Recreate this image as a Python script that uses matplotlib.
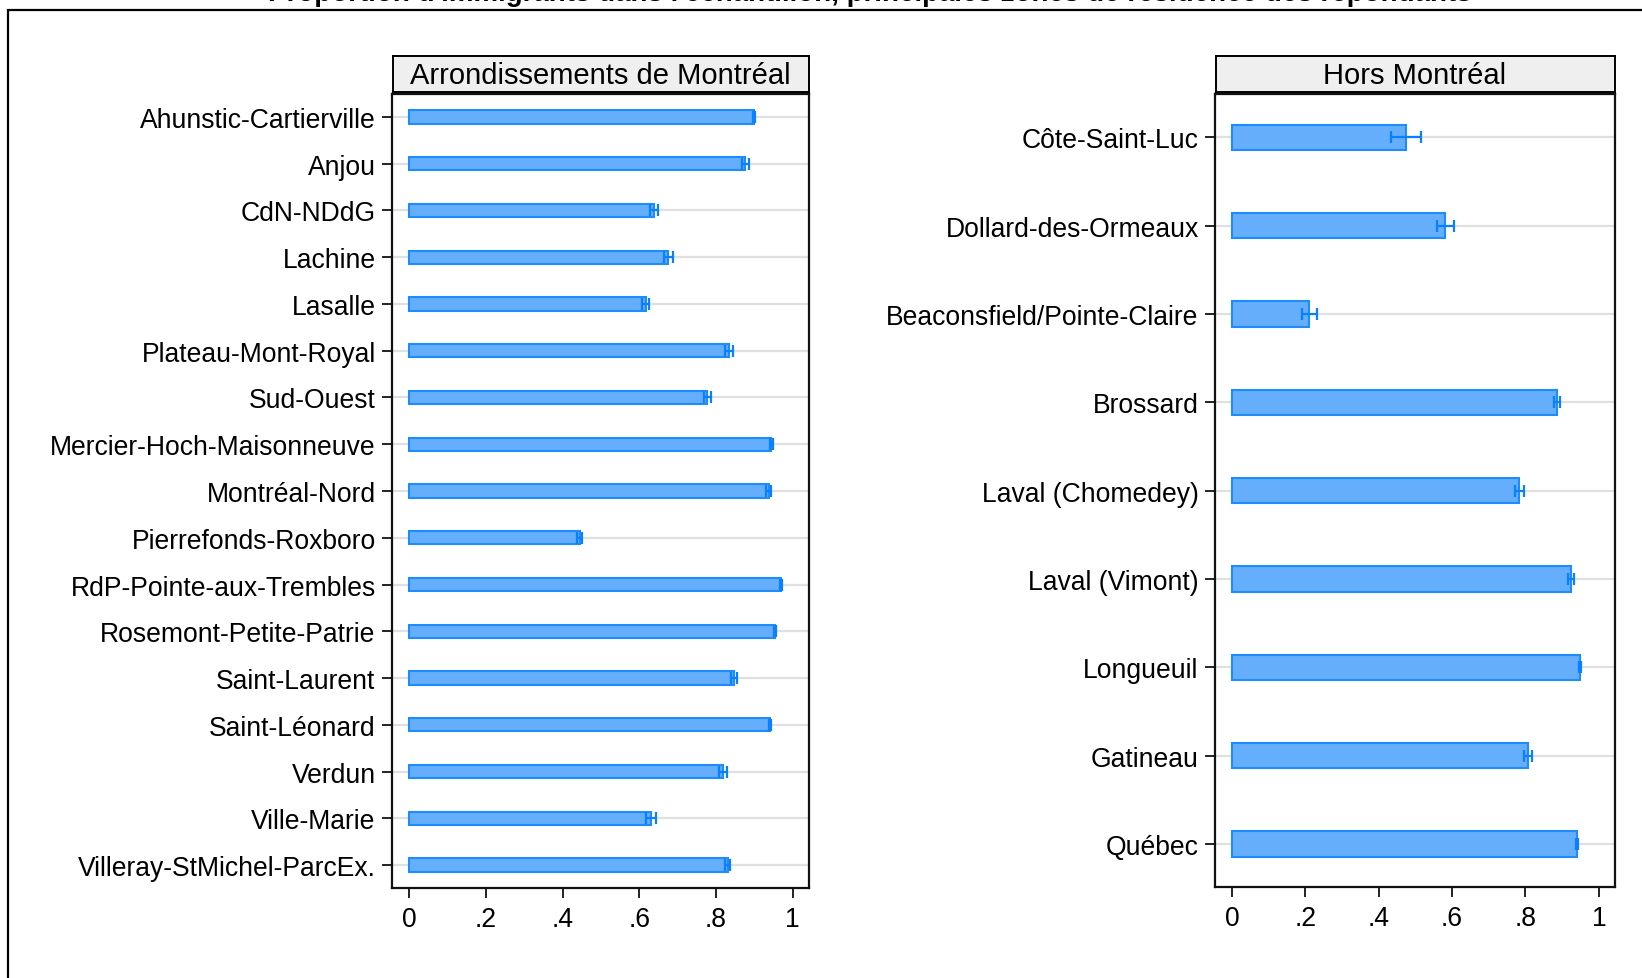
import matplotlib
matplotlib.use("Agg")
import matplotlib.pyplot as plt
from matplotlib.patches import Rectangle

plt.rcParams['font.family'] = ['Liberation Sans', 'DejaVu Sans']

# data (share + half-width of the CI)
mtl_names = ["Ahunstic-Cartierville", "Anjou", "CdN-NDdG", "Lachine", "Lasalle",
             "Plateau-Mont-Royal", "Sud-Ouest", "Mercier-Hoch-Maisonneuve",
             "Montréal-Nord", "Pierrefonds-Roxboro", "RdP-Pointe-aux-Trembles",
             "Rosemont-Petite-Patrie", "Saint-Laurent", "Saint-Léonard", "Verdun",
             "Ville-Marie", "Villeray-StMichel-ParcEx."]
mtl_vals = [0.900, 0.877, 0.639, 0.676, 0.617, 0.834, 0.778, 0.945, 0.938, 0.445,
            0.970, 0.955, 0.848, 0.942, 0.819, 0.630, 0.831]
mtl_err = [0.002, 0.009, 0.010, 0.012, 0.009, 0.011, 0.009, 0.003, 0.006, 0.007,
           0.002, 0.002, 0.008, 0.003, 0.010, 0.013, 0.006]

hors_names = ["Côte-Saint-Luc", "Dollard-des-Ormeaux", "Beaconsfield/Pointe-Claire",
              "Brossard", "Laval (Chomedey)", "Laval (Vimont)", "Longueuil",
              "Gatineau", "Québec"]
hors_vals = [0.474, 0.581, 0.211, 0.886, 0.783, 0.924, 0.949, 0.807, 0.940]
hors_err = [0.041, 0.023, 0.020, 0.009, 0.012, 0.007, 0.003, 0.012, 0.003]

xticks = [0, 0.2, 0.4, 0.6, 0.8, 1.0]
xticklabels = ["0", ".2", ".4", ".6", ".8", "1"]

W, H = 1642, 979
fig = plt.figure(figsize=(W / 100, H / 100), dpi=100)

FILL = '#64AEFB'
EDGE = '#1E8CFA'
ERRC = '#0A80FF'
FS = 19.1


def px_axes(x0, y0, x1, y1):
    # pixel box (top-left origin) -> figure axes
    return fig.add_axes([x0 / W, 1 - y1 / H, (x1 - x0) / W, (y1 - y0) / H])


def panel(box, strip, title, names, vals, errs, xlim):
    ax = px_axes(*box)
    n = len(names)
    y = list(range(n))
    ax.barh(y, vals, height=0.285, color=FILL, edgecolor=EDGE, linewidth=1.5, zorder=2)
    ax.errorbar(vals, y, xerr=errs, fmt='none', ecolor=ERRC, elinewidth=1.6,
                capsize=4.5, capthick=1.6, zorder=3)
    ax.set_ylim(n - 1 + 0.49, -0.49)
    ax.set_xlim(*xlim)
    ax.set_yticks(y)
    ax.set_yticklabels(names, fontsize=FS)
    ax.set_xticks(xticks)
    ax.set_xticklabels(xticklabels, fontsize=FS)
    ax.tick_params(axis='both', length=7, width=1.4, color='#222222')
    ax.tick_params(axis='y', pad=5)
    ax.tick_params(axis='x', pad=6)
    ax.grid(axis='y', color='#E0E0E0', linewidth=1.6, zorder=0)
    ax.set_axisbelow(True)
    for s in ax.spines.values():
        s.set_linewidth(1.6)
        s.set_color('#111111')

    sax = px_axes(*strip)
    sax.set_facecolor('#EFEFEF')
    sax.set_xticks([])
    sax.set_yticks([])
    for s in sax.spines.values():
        s.set_linewidth(1.4)
    sax.text(0.5, 0.47, title, ha='center', va='center', fontsize=21,
             transform=sax.transAxes)
    return ax


panel((392.3, 95, 809, 889), (392.5, 57.3, 808.5, 93.3), "Arrondissements de Montréal",
      mtl_names, mtl_vals, mtl_err, (-0.044, 1.043))
panel((1215.3, 95, 1615, 888.3), (1215.5, 57.3, 1614.5, 93.3), "Hors Montréal",
      hors_names, hors_vals, hors_err, (-0.045, 1.044))

# outer frame, cropped at right and bottom like the reference
fig.patches.append(Rectangle((8.3 / W, -0.05), 1.2, 1 - 10.5 / H + 0.05,
                             transform=fig.transFigure, fill=False,
                             edgecolor='black', linewidth=1.6, clip_on=False))

# title, mostly cut by the top edge as in the reference
fig.text(870 / W, 1 - 1 / H,
         "Proportion d'immigrants dans l'échantillon, principales zones de résidence des répondants",
         ha='center', va='baseline', fontsize=20, fontweight='bold')

fig.savefig("out.png", dpi=100)
